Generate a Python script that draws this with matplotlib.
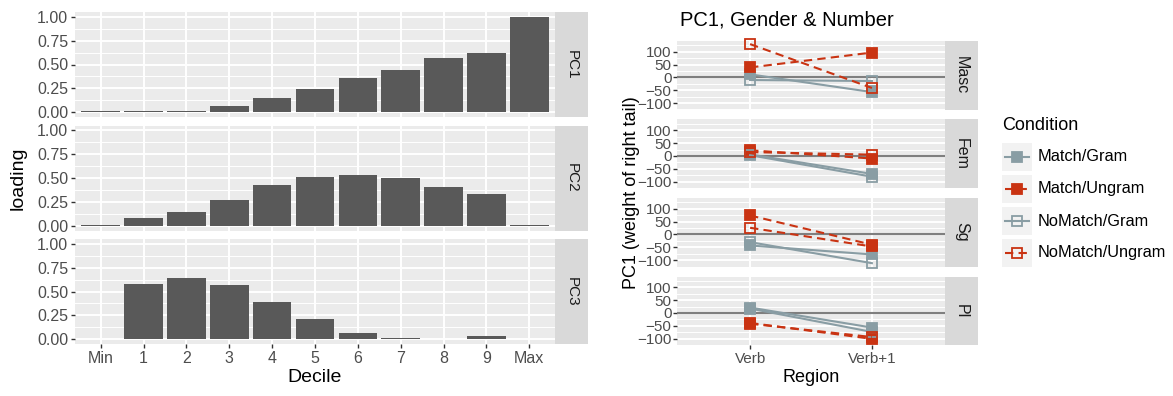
import numpy as np
import matplotlib
matplotlib.use('Agg')
import matplotlib.pyplot as plt
from matplotlib.lines import Line2D

plt.rcParams['font.family'] = ['Liberation Sans', 'DejaVu Sans']

# left: loadings per decile
deciles = ['Min', '1', '2', '3', '4', '5', '6', '7', '8', '9', 'Max']
pc_names = ['PC1', 'PC2', 'PC3']
pc1 = [0.008, 0.009, 0.014, 0.065, 0.150, 0.245, 0.362, 0.446, 0.570, 0.624, 0.994]
pc2 = [0.008, 0.085, 0.148, 0.265, 0.424, 0.508, 0.528, 0.497, 0.402, 0.328, 0.008]
pc3 = [0.007, 0.577, 0.639, 0.566, 0.388, 0.208, 0.062, 0.013, 0.007, 0.030, 0.007]
loadings = [pc1, pc2, pc3]

# right: PC1 per region, condition and facet
regions = ['Verb', 'Verb+1']
facets = ['Masc', 'Fem', 'Sg', 'Pl']
conditions = ['Match/Gram', 'Match/Ungram', 'NoMatch/Gram', 'NoMatch/Ungram']
pc1_vals = {
    'Masc': {'Match/Gram': [12, -57], 'Match/Ungram': [39, 97],
             'NoMatch/Gram': [-10, -14], 'NoMatch/Ungram': [130, -41]},
    'Fem': {'Match/Gram': [6, -70], 'Match/Ungram': [22, -10],
            'NoMatch/Gram': [3, -81], 'NoMatch/Ungram': [15, 5]},
    'Sg': {'Match/Gram': [-43, -78], 'Match/Ungram': [74, -40],
           'NoMatch/Gram': [-30, -112], 'NoMatch/Ungram': [26, -47]},
    'Pl': {'Match/Gram': [21, -57], 'Match/Ungram': [-39, -101],
           'NoMatch/Gram': [17, -74], 'NoMatch/Ungram': [-42, -94]},
}

gray = '#899DA4'
red = '#C93312'
cond_style = {
    'Match/Gram': dict(color=gray, ls='-', mfc=gray),
    'Match/Ungram': dict(color=red, ls=(0, (4, 2.5)), mfc=red),
    'NoMatch/Gram': dict(color=gray, ls='-', mfc='none'),
    'NoMatch/Ungram': dict(color=red, ls=(0, (4, 2.5)), mfc='none'),
}

W, H = 1173, 396
fig = plt.figure(figsize=(W / 100, H / 100), dpi=100)


def box(l, t, r, b):
    return [l / W, 1 - b / H, (r - l) / W, (b - t) / H]


panel_bg = '#EBEBEB'
strip_bg = '#D9D9D9'
tick_col = '#4D4D4D'


def style_panel(ax, size):
    ax.set_facecolor(panel_bg)
    for s in ax.spines.values():
        s.set_visible(False)
    ax.tick_params(axis='both', colors='#333333', labelcolor=tick_col,
                   labelsize=size, length=3, width=1, pad=2)
    ax.set_axisbelow(True)
    ax.grid(which='major', color='white', lw=1.4)
    ax.grid(which='minor', color='white', lw=0.7)


def strip(rect, label, size):
    s = fig.add_axes(rect)
    s.set_facecolor(strip_bg)
    s.set_xticks([])
    s.set_yticks([])
    for sp in s.spines.values():
        sp.set_visible(False)
    s.text(0.5, 0.5, label, rotation=-90, ha='center', va='center',
           fontsize=size, color='#1A1A1A', transform=s.transAxes)


# ---- left panels
lt, lb = 12, 344
lh = (lb - lt - 2 * 8.5) / 3
x = np.arange(len(deciles))
for i, vals in enumerate(loadings):
    t = lt + i * (lh + 8.5)
    ax = fig.add_axes(box(75, t, 555, t + lh))
    style_panel(ax, 11.5)
    ax.bar(x, vals, width=0.9, color='#595959', zorder=2)
    ax.set_xlim(-0.6, len(deciles) - 0.4)
    ax.set_ylim(-0.05, 1.05)
    ax.set_yticks([0, 0.25, 0.5, 0.75, 1.0])
    ax.set_yticklabels(['0.00', '0.25', '0.50', '0.75', '1.00'])
    ax.set_yticks([0.125, 0.375, 0.625, 0.875], minor=True)
    ax.tick_params(axis='y', which='minor', length=0)
    ax.set_xticks(x)
    if i == 2:
        ax.set_xticklabels(deciles)
        ax.set_xlabel('Decile', fontsize=14, labelpad=2)
    else:
        ax.set_xticklabels([])
        ax.tick_params(axis='x', length=0)
    strip(box(555, t, 588, t + lh), pc_names[i], 11)

fig.text(18 / W, 1 - 178 / H, 'loading', rotation=90, ha='center',
         va='center', fontsize=14)

# ---- right panels
all_vals = [v for f in facets for c in conditions for v in pc1_vals[f][c]]
vmin, vmax = min(all_vals), max(all_vals)
pad = 0.05 * (vmax - vmin)
rt, rb = 41, 345
gap = 10
rh = (rb - rt - 3 * gap) / 4
xr = np.arange(len(regions))
for i, f in enumerate(facets):
    t = rt + i * (rh + gap)
    ax = fig.add_axes(box(677, t, 945, t + rh))
    style_panel(ax, 11)
    ax.axhline(0, color='#7F7F7F', lw=1.5, zorder=2)
    for c in conditions:
        st = cond_style[c]
        ax.plot(xr, pc1_vals[f][c], color=st['color'], ls=st['ls'], lw=1.5,
                marker='s', ms=6.5, mfc=st['mfc'], mec=st['color'], mew=1.3,
                zorder=3, clip_on=False)
    ax.set_xlim(-0.6, len(regions) - 0.4)
    ax.set_ylim(vmin - pad, vmax + pad)
    ax.set_yticks([-100, -50, 0, 50, 100])
    ax.set_yticklabels(['\u2212100', '\u221250', '0', '50', '100'])
    ax.set_yticks([-125, -75, -25, 25, 75, 125], minor=True)
    ax.tick_params(axis='y', which='minor', length=0)
    ax.tick_params(axis='y', pad=1)
    ax.set_xticks(xr)
    if i == 3:
        ax.set_xticklabels(regions)
        ax.set_xlabel('Region', fontsize=13, labelpad=2)
    else:
        ax.set_xticklabels([])
        ax.tick_params(axis='x', length=0)
    strip(box(945, t, 978, t + rh), f, 11.5)

fig.text(632 / W, 1 - 193 / H, 'PC1 (weight of right tail)', rotation=90,
         ha='center', va='center', fontsize=13)
fig.text(680 / W, 1 - 20 / H, 'PC1, Gender & Number', ha='left',
         va='center', fontsize=14.5)

# ---- legend
fig.text(1002 / W, 1 - 126 / H, 'Condition', ha='left', va='center',
         fontsize=13)
for k, c in enumerate(conditions):
    cy = 157 + k * 32
    kax = fig.add_axes(box(1002, cy - 14, 1032, cy + 14))
    kax.set_facecolor('#F2F2F2')
    kax.set_xticks([])
    kax.set_yticks([])
    for sp in kax.spines.values():
        sp.set_visible(False)
    kax.set_xlim(0, 1)
    kax.set_ylim(0, 1)
    st = cond_style[c]
    kax.add_line(Line2D([0.1, 0.9], [0.5, 0.5], color=st['color'],
                        ls=st['ls'], lw=1.5))
    kax.plot([0.5], [0.5], marker='s', ms=6.5, mfc=st['mfc'],
             mec=st['color'], mew=1.3, color=st['color'])
    fig.text(1038 / W, 1 - cy / H, c, ha='left', va='center', fontsize=11.8)

fig.savefig('out.png', dpi=100)
